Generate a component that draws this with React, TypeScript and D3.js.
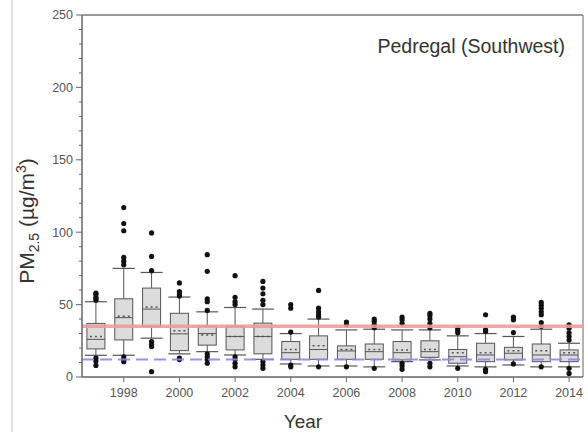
import React from "react";
import * as d3 from "d3";

const years = [1997, 1998, 1999, 2000, 2001, 2002, 2003, 2004, 2005, 2006, 2007, 2008, 2009, 2010, 2011, 2012, 2013, 2014];
const whiskerLow = [15, 15, 26.8, 16, 17.5, 15.2, 12.2, 9, 7.6, 7.6, 7, 10.6, 11.8, 7.6, 7, 8.3, 7, 7];
const q1 = [19.4, 25.6, 34.8, 18.2, 22, 18.7, 16, 12.2, 12.2, 12.2, 12.2, 11.8, 13.6, 9.5, 10.6, 11.8, 10.6, 10.6];
const medians = [26, 41, 46.9, 29.8, 30, 28, 28, 16.8, 19, 18, 17.5, 16.8, 17.5, 14, 15.2, 16.4, 15.2, 15.2];
const means = [28, 42, 48.3, 32, 29, 28, 28, 19, 21.5, 19, 19, 18.7, 19, 16.8, 16.8, 18.2, 18.2, 16.8];
const q3 = [37, 54, 61.4, 44, 35, 35, 37.2, 24.5, 28.4, 21.5, 22.8, 24.5, 25, 19, 23.3, 20.5, 22.8, 18.7];
const whiskerHigh = [52, 75, 72.2, 55.2, 45, 48, 46.9, 30, 40, 32.5, 33, 32.5, 32.5, 28.4, 30, 28, 33, 23.3];
const outliers = [
  [58, 57, 55, 54, 53, 13, 11, 8],
  [117, 106, 101, 82.6, 80, 77.5, 14, 12, 10.6],
  [99.5, 83.3, 73.4, 24.5, 22.5, 21, 3.7],
  [65, 59, 57.3, 56, 13, 12],
  [84.5, 73, 54, 52, 46, 16, 14, 12, 9.5],
  [70, 55, 52, 50, 14, 12, 9.5, 7],
  [66, 61.4, 57.5, 53, 50, 10.6, 8.3, 6],
  [50, 47.5, 31, 8.3, 7],
  [59.8, 47.5, 45, 43, 41.5, 7],
  [38, 36, 7],
  [40, 38.5, 36, 34, 6],
  [41.3, 39.5, 37, 9.5, 7.6, 5.3],
  [44, 42.5, 40, 37, 34, 9.5, 7],
  [33.7, 32, 30.5, 6],
  [43, 32.5, 31.5, 5.3, 3.7],
  [41.3, 39.5, 30.7, 9],
  [51.5, 49.5, 47.4, 45, 43, 37.6, 35, 7],
  [36, 33.7, 30.5, 28, 25.5, 6, 2.5],
];
const yTicks = [0, 50, 100, 150, 200, 250];
const xTicks = [1998, 2000, 2002, 2004, 2006, 2008, 2010, 2012, 2014];
const redLimit = 35;
const blueLimit = 12;
const title = "Pedregal (Southwest)";

const W = 588, H = 432;
const left = 82, right = 583, top = 15, bottom = 377;

export default function App() {
  const x = d3.scaleLinear().domain([1996.5, 2014.5]).range([left, right]);
  const y = d3.scaleLinear().domain([0, 250]).range([bottom, top]);
  const minorTicks = d3.range(0, 251, 10).filter((v) => v % 50 !== 0);
  const boxW = 18;
  const capW = 22;
  const font = "Liberation Sans, Arial, sans-serif";

  return (
    <svg width={W} height={H} style={{ position: "absolute", left: 0, top: 0, background: "#fff" }}>
      <line x1={12} x2={12} y1={0} y2={H} stroke="#e2e2e2" strokeWidth={2} />
      {/* frame */}
      <line x1={left} x2={right} y1={top} y2={top} stroke="#999" strokeWidth={2} />
      <line x1={right} x2={right} y1={top} y2={bottom} stroke="#999" strokeWidth={1.5} />
      {/* boxes */}
      {years.map((yr, i) => {
        const cx = x(yr);
        return (
          <g key={yr}>
            <line x1={cx} x2={cx} y1={y(whiskerHigh[i])} y2={y(q3[i])} stroke="#555" strokeWidth={1} />
            <line x1={cx} x2={cx} y1={y(q1[i])} y2={y(whiskerLow[i])} stroke="#555" strokeWidth={1} />
            <line x1={cx - capW / 2} x2={cx + capW / 2} y1={y(whiskerHigh[i])} y2={y(whiskerHigh[i])} stroke="#555" strokeWidth={1.2} />
            <line x1={cx - capW / 2} x2={cx + capW / 2} y1={y(whiskerLow[i])} y2={y(whiskerLow[i])} stroke="#555" strokeWidth={1.2} />
            <rect x={cx - boxW / 2} y={y(q3[i])} width={boxW} height={y(q1[i]) - y(q3[i])} fill="#dcdcdc" stroke="#555" strokeWidth={1} />
            <line x1={cx - boxW / 2} x2={cx + boxW / 2} y1={y(medians[i])} y2={y(medians[i])} stroke="#555" strokeWidth={1} />
            <line x1={cx - boxW / 2 + 3} x2={cx + boxW / 2 - 3} y1={y(means[i])} y2={y(means[i])} stroke="#555" strokeWidth={1.5} strokeDasharray="2,3" />
            {outliers[i].map((v, j) => (
              <circle key={j} cx={cx} cy={y(v)} r={2.6} fill="#111" />
            ))}
          </g>
        );
      })}
      {/* reference lines */}
      <line x1={left} x2={right} y1={y(redLimit)} y2={y(redLimit)} stroke="#f49a9a" strokeWidth={3.5} opacity={0.9} />
      <line x1={left} x2={right} y1={y(blueLimit)} y2={y(blueLimit)} stroke="#8888ff" strokeWidth={2} strokeDasharray="12,6" opacity={0.9} />
      {/* y axis */}
      <line x1={left} x2={left} y1={top} y2={bottom} stroke="#666" strokeWidth={1.5} />
      {minorTicks.map((v) => (
        <line key={v} x1={left - 3} x2={left} y1={y(v)} y2={y(v)} stroke="#666" strokeWidth={1} />
      ))}
      {yTicks.map((v) => (
        <g key={v}>
          <line x1={left - 6} x2={left} y1={y(v)} y2={y(v)} stroke="#666" strokeWidth={1} />
          <text x={left - 9} y={y(v)} dy="0.35em" textAnchor="end" fontSize={12.5} fill="#555" fontFamily={font}>{v}</text>
        </g>
      ))}
      {/* x axis */}
      <line x1={left} x2={right} y1={bottom} y2={bottom} stroke="#666" strokeWidth={1.5} />
      {xTicks.map((v) => (
        <g key={v}>
          <line x1={x(v)} x2={x(v)} y1={bottom} y2={bottom + 5} stroke="#666" strokeWidth={1} />
          <text x={x(v)} y={bottom + 16} dy="0.35em" textAnchor="middle" fontSize={12.5} fill="#555" fontFamily={font}>{v}</text>
        </g>
      ))}
      <text x={565} y={53} textAnchor="end" fontSize={19.5} fill="#333" fontFamily={font}>{title}</text>
      <text x={303} y={428} textAnchor="middle" fontSize={19} fill="#333" fontFamily={font}>Year</text>
      <text transform={`translate(34,221) rotate(-90)`} textAnchor="middle" fontSize={21} fill="#333" fontFamily={font}>
        PM<tspan fontSize={14} dy={5}>2.5</tspan>
        <tspan dy={-5}> (µg/m</tspan>
        <tspan fontSize={14} dy={-8}>3</tspan>
        <tspan dy={8}>)</tspan>
      </text>
    </svg>
  );
}
